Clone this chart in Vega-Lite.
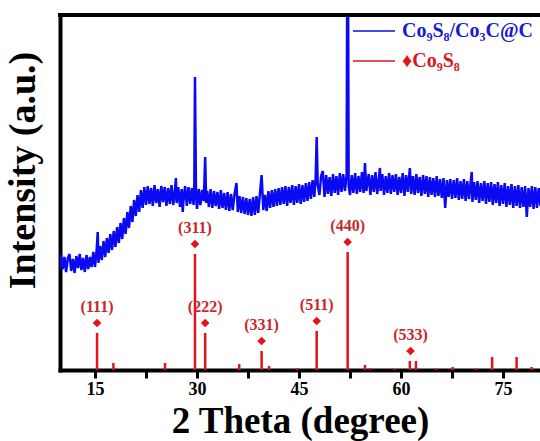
{
  "$schema": "https://vega.github.io/schema/vega-lite/v6.json",
  "width": 480,
  "height": 355,
  "autosize": {"type": "none"},
  "padding": {"left": 60, "top": 15, "right": 0, "bottom": 71},
  "config": {"view": {"stroke": null}, "font": "Liberation Serif"},
  "datasets": {
    "xrd": [
      {"theta":9.75,"intensity":100},{"theta":10.0,"intensity":115},{"theta":10.25,"intensity":101},{"theta":10.5,"intensity":113},{"theta":10.75,"intensity":98},{"theta":11.0,"intensity":112},{"theta":11.25,"intensity":116},{"theta":11.5,"intensity":99},{"theta":11.75,"intensity":111},{"theta":12.0,"intensity":97},{"theta":12.25,"intensity":114},{"theta":12.5,"intensity":102},{"theta":12.75,"intensity":116},{"theta":13.0,"intensity":100},{"theta":13.25,"intensity":112},{"theta":13.5,"intensity":98},{"theta":13.75,"intensity":115},{"theta":14.0,"intensity":101},{"theta":14.25,"intensity":113},{"theta":14.5,"intensity":103},{"theta":14.75,"intensity":118},{"theta":15.0,"intensity":103},{"theta":15.25,"intensity":121},{"theta":15.4,"intensity":138},{"theta":15.5,"intensity":107},{"theta":15.75,"intensity":124},{"theta":16.0,"intensity":110},{"theta":16.25,"intensity":129},{"theta":16.5,"intensity":113},{"theta":16.75,"intensity":132},{"theta":17.0,"intensity":117},{"theta":17.25,"intensity":136},{"theta":17.5,"intensity":120},{"theta":17.75,"intensity":139},{"theta":18.0,"intensity":123},{"theta":18.25,"intensity":143},{"theta":18.5,"intensity":127},{"theta":18.75,"intensity":147},{"theta":19.0,"intensity":131},{"theta":19.25,"intensity":152},{"theta":19.5,"intensity":136},{"theta":19.75,"intensity":158},{"theta":20.0,"intensity":142},{"theta":20.25,"intensity":164},{"theta":20.5,"intensity":148},{"theta":20.75,"intensity":170},{"theta":21.0,"intensity":154},{"theta":21.25,"intensity":175},{"theta":21.5,"intensity":158},{"theta":21.75,"intensity":180},{"theta":22.0,"intensity":162},{"theta":22.25,"intensity":183},{"theta":22.5,"intensity":165},{"theta":22.75,"intensity":184},{"theta":23.0,"intensity":166},{"theta":23.25,"intensity":182},{"theta":23.5,"intensity":164},{"theta":23.75,"intensity":185},{"theta":24.0,"intensity":167},{"theta":24.25,"intensity":181},{"theta":24.5,"intensity":163},{"theta":24.75,"intensity":184},{"theta":25.0,"intensity":168},{"theta":25.25,"intensity":183},{"theta":25.5,"intensity":164},{"theta":25.75,"intensity":182},{"theta":26.0,"intensity":166},{"theta":26.25,"intensity":185},{"theta":26.5,"intensity":165},{"theta":26.75,"intensity":180},{"theta":26.9,"intensity":192},{"theta":27.0,"intensity":167},{"theta":27.25,"intensity":183},{"theta":27.5,"intensity":163},{"theta":27.75,"intensity":181},{"theta":27.9,"intensity":158},{"theta":28.0,"intensity":169},{"theta":28.25,"intensity":184},{"theta":28.5,"intensity":164},{"theta":28.75,"intensity":183},{"theta":29.0,"intensity":166},{"theta":29.25,"intensity":182},{"theta":29.5,"intensity":165},{"theta":29.6,"intensity":184},{"theta":29.7,"intensity":293},{"theta":29.85,"intensity":175},{"theta":30.0,"intensity":161},{"theta":30.25,"intensity":181},{"theta":30.5,"intensity":165},{"theta":30.75,"intensity":180},{"theta":31.0,"intensity":169},{"theta":31.2,"intensity":213},{"theta":31.35,"intensity":167},{"theta":31.5,"intensity":179},{"theta":31.75,"intensity":163},{"theta":32.0,"intensity":181},{"theta":32.25,"intensity":162},{"theta":32.5,"intensity":179},{"theta":32.75,"intensity":164},{"theta":33.0,"intensity":178},{"theta":33.25,"intensity":161},{"theta":33.5,"intensity":180},{"theta":33.75,"intensity":162},{"theta":34.0,"intensity":177},{"theta":34.25,"intensity":160},{"theta":34.5,"intensity":178},{"theta":34.75,"intensity":159},{"theta":35.0,"intensity":176},{"theta":35.25,"intensity":160},{"theta":35.5,"intensity":175},{"theta":35.8,"intensity":187},{"theta":36.0,"intensity":158},{"theta":36.25,"intensity":174},{"theta":36.5,"intensity":157},{"theta":36.75,"intensity":173},{"theta":37.0,"intensity":156},{"theta":37.25,"intensity":172},{"theta":37.5,"intensity":155},{"theta":37.75,"intensity":171},{"theta":38.0,"intensity":154},{"theta":38.25,"intensity":173},{"theta":38.5,"intensity":155},{"theta":38.75,"intensity":174},{"theta":39.0,"intensity":157},{"theta":39.25,"intensity":176},{"theta":39.5,"intensity":195},{"theta":39.75,"intensity":160},{"theta":40.0,"intensity":175},{"theta":40.25,"intensity":159},{"theta":40.5,"intensity":179},{"theta":40.75,"intensity":162},{"theta":41.0,"intensity":180},{"theta":41.25,"intensity":163},{"theta":41.5,"intensity":181},{"theta":41.75,"intensity":164},{"theta":42.0,"intensity":182},{"theta":42.25,"intensity":165},{"theta":42.5,"intensity":183},{"theta":42.75,"intensity":166},{"theta":43.0,"intensity":184},{"theta":43.25,"intensity":164},{"theta":43.5,"intensity":183},{"theta":43.75,"intensity":167},{"theta":44.0,"intensity":185},{"theta":44.25,"intensity":165},{"theta":44.5,"intensity":184},{"theta":44.75,"intensity":167},{"theta":45.0,"intensity":186},{"theta":45.25,"intensity":166},{"theta":45.5,"intensity":185},{"theta":45.75,"intensity":168},{"theta":46.0,"intensity":187},{"theta":46.25,"intensity":169},{"theta":46.5,"intensity":188},{"theta":46.75,"intensity":171},{"theta":47.0,"intensity":190},{"theta":47.25,"intensity":173},{"theta":47.45,"intensity":192},{"theta":47.6,"intensity":233},{"theta":47.75,"intensity":185},{"theta":48.0,"intensity":175},{"theta":48.25,"intensity":194},{"theta":48.5,"intensity":199},{"theta":48.75,"intensity":173},{"theta":49.0,"intensity":195},{"theta":49.25,"intensity":176},{"theta":49.5,"intensity":193},{"theta":49.75,"intensity":174},{"theta":50.0,"intensity":196},{"theta":50.25,"intensity":177},{"theta":50.5,"intensity":194},{"theta":50.75,"intensity":175},{"theta":51.0,"intensity":197},{"theta":51.25,"intensity":178},{"theta":51.5,"intensity":196},{"theta":51.75,"intensity":179},{"theta":52.0,"intensity":195},{"theta":52.1,"intensity":420},{"theta":52.2,"intensity":420},{"theta":52.3,"intensity":184},{"theta":52.5,"intensity":175},{"theta":52.75,"intensity":195},{"theta":53.0,"intensity":177},{"theta":53.25,"intensity":197},{"theta":53.5,"intensity":176},{"theta":53.75,"intensity":194},{"theta":54.0,"intensity":178},{"theta":54.25,"intensity":198},{"theta":54.5,"intensity":177},{"theta":54.7,"intensity":207},{"theta":54.9,"intensity":179},{"theta":55.25,"intensity":196},{"theta":55.5,"intensity":175},{"theta":55.75,"intensity":195},{"theta":56.0,"intensity":178},{"theta":56.25,"intensity":198},{"theta":56.5,"intensity":176},{"theta":56.9,"intensity":202},{"theta":57.0,"intensity":179},{"theta":57.25,"intensity":196},{"theta":57.5,"intensity":175},{"theta":57.75,"intensity":194},{"theta":58.0,"intensity":177},{"theta":58.25,"intensity":197},{"theta":58.5,"intensity":176},{"theta":58.75,"intensity":195},{"theta":59.0,"intensity":178},{"theta":59.25,"intensity":196},{"theta":59.5,"intensity":175},{"theta":59.75,"intensity":193},{"theta":60.0,"intensity":177},{"theta":60.25,"intensity":197},{"theta":60.5,"intensity":174},{"theta":60.75,"intensity":195},{"theta":61.0,"intensity":178},{"theta":61.3,"intensity":202},{"theta":61.5,"intensity":176},{"theta":61.75,"intensity":194},{"theta":62.0,"intensity":175},{"theta":62.25,"intensity":196},{"theta":62.5,"intensity":177},{"theta":62.75,"intensity":193},{"theta":63.0,"intensity":174},{"theta":63.25,"intensity":195},{"theta":63.5,"intensity":176},{"theta":63.75,"intensity":194},{"theta":64.0,"intensity":173},{"theta":64.25,"intensity":193},{"theta":64.5,"intensity":175},{"theta":64.75,"intensity":192},{"theta":65.0,"intensity":173},{"theta":65.25,"intensity":194},{"theta":65.5,"intensity":174},{"theta":65.75,"intensity":191},{"theta":66.0,"intensity":172},{"theta":66.25,"intensity":192},{"theta":66.5,"intensity":162},{"theta":66.75,"intensity":190},{"theta":67.0,"intensity":173},{"theta":67.25,"intensity":191},{"theta":67.5,"intensity":171},{"theta":67.75,"intensity":190},{"theta":68.0,"intensity":172},{"theta":68.25,"intensity":192},{"theta":68.5,"intensity":170},{"theta":68.75,"intensity":189},{"theta":69.0,"intensity":171},{"theta":69.25,"intensity":191},{"theta":69.5,"intensity":169},{"theta":69.75,"intensity":189},{"theta":70.0,"intensity":171},{"theta":70.4,"intensity":198},{"theta":70.5,"intensity":168},{"theta":70.75,"intensity":188},{"theta":71.0,"intensity":170},{"theta":71.25,"intensity":189},{"theta":71.5,"intensity":167},{"theta":71.75,"intensity":187},{"theta":72.0,"intensity":169},{"theta":72.25,"intensity":189},{"theta":72.5,"intensity":166},{"theta":72.75,"intensity":187},{"theta":73.0,"intensity":168},{"theta":73.25,"intensity":188},{"theta":73.5,"intensity":165},{"theta":73.75,"intensity":186},{"theta":74.0,"intensity":167},{"theta":74.25,"intensity":188},{"theta":74.5,"intensity":164},{"theta":74.75,"intensity":185},{"theta":75.0,"intensity":166},{"theta":75.25,"intensity":187},{"theta":75.5,"intensity":163},{"theta":75.75,"intensity":184},{"theta":76.0,"intensity":165},{"theta":76.25,"intensity":186},{"theta":76.5,"intensity":162},{"theta":76.75,"intensity":184},{"theta":77.0,"intensity":164},{"theta":77.25,"intensity":185},{"theta":77.5,"intensity":162},{"theta":77.75,"intensity":183},{"theta":78.0,"intensity":163},{"theta":78.25,"intensity":184},{"theta":78.5,"intensity":153},{"theta":78.75,"intensity":182},{"theta":79.0,"intensity":163},{"theta":79.25,"intensity":184},{"theta":79.5,"intensity":161},{"theta":79.75,"intensity":183},{"theta":80.0,"intensity":162},{"theta":80.25,"intensity":182},{"theta":80.5,"intensity":164}
    ],
    "ref": [
      {"theta":15.3,"h":37},{"theta":17.7,"h":7},{"theta":25.3,"h":7},{"theta":29.7,"h":116},{"theta":31.2,"h":37},{"theta":36.2,"h":6},{"theta":39.5,"h":19},{"theta":40.6,"h":4},{"theta":44.7,"h":2},{"theta":47.6,"h":39},{"theta":52.15,"h":118},{"theta":54.7,"h":5},{"theta":55.5,"h":2},{"theta":59.0,"h":1.5},{"theta":61.3,"h":9},{"theta":62.2,"h":9},{"theta":65.2,"h":1.5},{"theta":67.6,"h":3},{"theta":71.1,"h":1.5},{"theta":73.4,"h":13},{"theta":77.0,"h":13},{"theta":79.2,"h":3}
    ],
    "hkl": [
      {"theta":15.3,"h":37,"label":"(111)"},{"theta":29.7,"h":116,"label":"(311)"},{"theta":31.2,"h":37,"label":"(222)"},{"theta":39.5,"h":19,"label":"(331)"},{"theta":47.6,"h":39,"label":"(511)"},{"theta":52.15,"h":118,"label":"(440)"},{"theta":61.4,"h":9,"label":"(533)"}
    ],
    "frame": [{"top": 355}]
  },
  "layer": [
    {
      "data": {"name": "xrd"},
      "mark": {"type": "line", "clip": true, "strokeWidth": 2.5},
      "encoding": {
        "x": {"field": "theta", "type": "quantitative", "scale": {"domain": [9.85, 80.44], "nice": false, "zero": false},
          "axis": {"values": [15, 22.5, 30, 37.5, 45, 52.5, 60, 67.5, 75], "labelExpr": "datum.value % 15 == 0 ? datum.label : ''", "labelOverlap": false, "labelFlush": false, "grid": false, "domainWidth": 4, "domainColor": "black", "domainCap": "square", "tickColor": "black", "tickWidth": 3, "tickSize": 8, "labelFontSize": 18, "labelFontWeight": "bold", "labelFont": "Liberation Serif", "labelColor": "black", "labelPadding": 2, "title": "2 Theta (degree)", "titleFont": "Liberation Serif", "titleFontSize": 37, "titleFontWeight": "bold", "titleColor": "black", "titlePadding": 5}},
        "y": {"field": "intensity", "type": "quantitative", "scale": {"domain": [0, 355], "nice": false, "zero": false},
          "axis": {"grid": false, "ticks": false, "labels": false, "domain": true, "domainWidth": 4, "domainColor": "black", "domainCap": "square", "title": "Intensity (a.u.)", "titleFont": "Liberation Serif", "titleFontSize": 38, "titleFontWeight": "bold", "titleColor": "black", "titlePadding": 18, "titleY": 155}},
        "color": {"datum": "Co₉S₈/Co₃C@C", "type": "nominal",
          "scale": {"domain": ["Co₉S₈/Co₃C@C", "♦Co₉S₈"], "range": ["#0a0af2", "#e0141c"]},
          "legend": {"orient": "none", "legendX": 293, "legendY": 6, "title": null, "padding": 0, "symbolType": "M-3,0H3", "symbolSize": 196, "symbolStrokeWidth": 1.5, "symbolOffset": 11, "labelOffset": 18, "rowPadding": 10, "labelFont": "Liberation Serif", "labelFontSize": 20, "labelFontWeight": "bold", "labelLimit": 600,
            "encode": {"labels": {"update": {"fill": {"signal": "datum.index === 0 ? '#1a1ad6' : '#e0141c'"}}}}}}
      }
    },
    {
      "data": {"name": "ref"},
      "mark": {"type": "rule", "strokeWidth": 2.5, "clip": true},
      "encoding": {
        "x": {"field": "theta", "type": "quantitative"},
        "y": {"field": "h", "type": "quantitative"},
        "y2": {"datum": 0},
        "color": {"datum": "♦Co₉S₈", "type": "nominal"}
      }
    },
    {
      "data": {"name": "frame"},
      "mark": {"type": "rule", "strokeWidth": 4, "color": "black", "strokeCap": "square"},
      "encoding": {"y": {"field": "top", "type": "quantitative"}}
    },
    {
      "data": {"name": "hkl"},
      "mark": {"type": "point", "shape": "diamond", "filled": true, "size": 75, "color": "#e8101a", "opacity": 1, "yOffset": -10},
      "encoding": {
        "x": {"field": "theta", "type": "quantitative"},
        "y": {"field": "h", "type": "quantitative"}
      }
    },
    {
      "data": {"name": "hkl"},
      "mark": {"type": "text", "font": "Liberation Serif", "fontWeight": "bold", "fontSize": 16, "color": "#c8282e", "yOffset": -26, "baseline": "middle"},
      "encoding": {
        "x": {"field": "theta", "type": "quantitative"},
        "y": {"field": "h", "type": "quantitative"},
        "text": {"field": "label"}
      }
    }
  ]
}
